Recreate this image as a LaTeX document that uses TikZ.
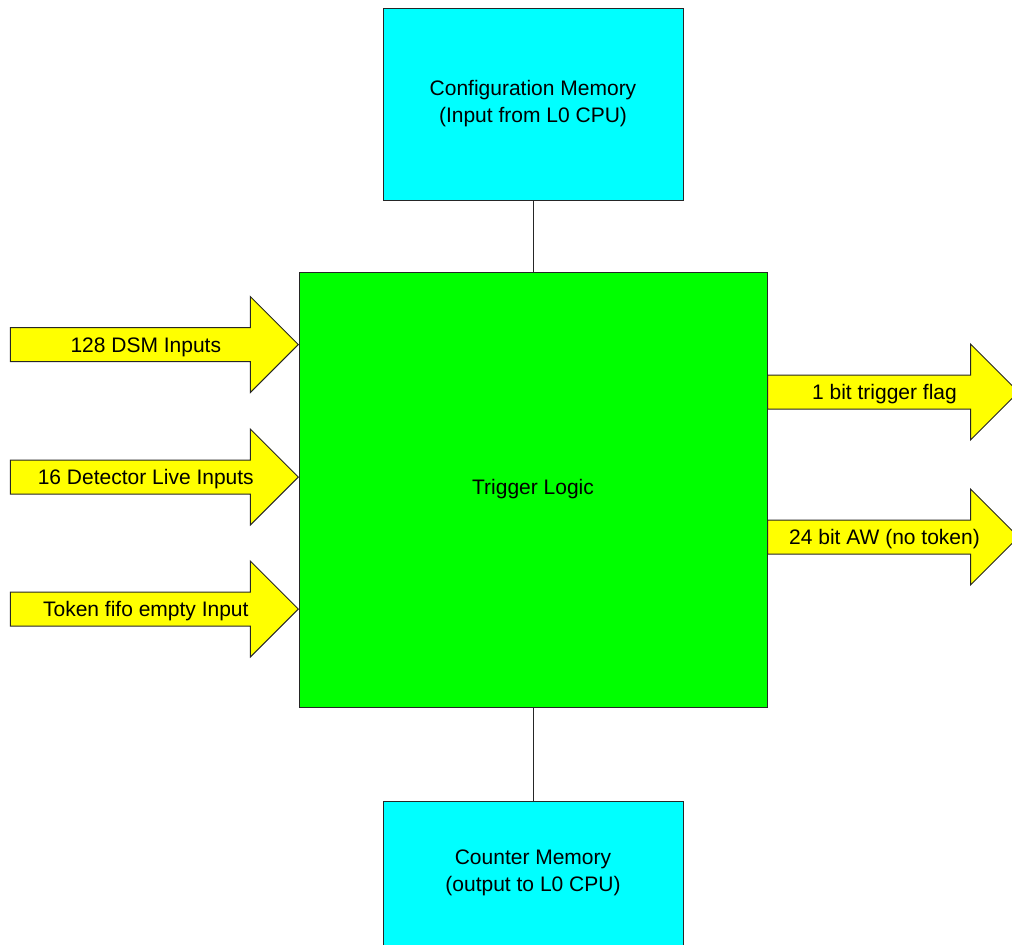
\documentclass[tikz,border=0pt]{standalone}
\usepackage{fontspec}
\setmainfont{Liberation Sans}
\usepackage{tikz}
\usetikzlibrary{shapes.arrows}
\definecolor{memcyan}{RGB}{0,255,255}
\definecolor{logicgreen}{RGB}{0,255,0}
\definecolor{sigyellow}{RGB}{255,255,0}
\tikzset{
  memblock/.style={rectangle,fill=memcyan,draw=black!85,line width=1pt,
    minimum width=300pt,align=center},
  logicblock/.style={rectangle,fill=logicgreen,draw=black!85,line width=1pt,
    minimum width=468pt,minimum height=435pt},
  sigarrow/.style={single arrow,fill=sigyellow,draw=black!85,line width=1pt,
    single arrow head extend=31pt,single arrow head indent=0pt,
    single arrow tip angle=90,inner ysep=0pt,inner xsep=0pt,
    text height=24pt,text depth=9pt,minimum width=0pt},
  every picture/.style={font=\fontsize{21}{27}\selectfont}
}

\begin{document}
\begin{tikzpicture}[x=1pt,y=-1pt]
  \useasboundingbox (0,0) rectangle (1012,945);
  \clip (0,0) rectangle (1012,945);
  \node[memblock,minimum height=192pt] (config) at (533,104)
    {Configuration Memory\\(Input from L0 CPU)};
  \node[logicblock] (logic) at (533,489.5) {Trigger Logic};
  \node[memblock,minimum height=144pt] (counter) at (533,873)
    {Counter Memory\\(output to L0 CPU)};
  \draw[line width=1pt,black!85] (config) -- (logic);
  \draw[line width=1pt,black!85] (logic) -- (counter);
  % inputs
  \node[sigarrow,minimum height=288pt,anchor=tip] (dsm) at (299,344.5) {128 DSM Inputs};
  \node[sigarrow,minimum height=288pt,anchor=tip] (live) at (299,477) {16 Detector Live Inputs};
  \node[sigarrow,minimum height=288pt,anchor=tip] (token) at (299,609) {Token fifo empty Input};
  % outputs
  \node[sigarrow,minimum height=251pt,anchor=tail] (flag) at (767,392) {1 bit trigger flag};
  \node[sigarrow,minimum height=251pt,anchor=tail] (aw) at (767,537) {24 bit AW (no token)};
\end{tikzpicture}
\end{document}
